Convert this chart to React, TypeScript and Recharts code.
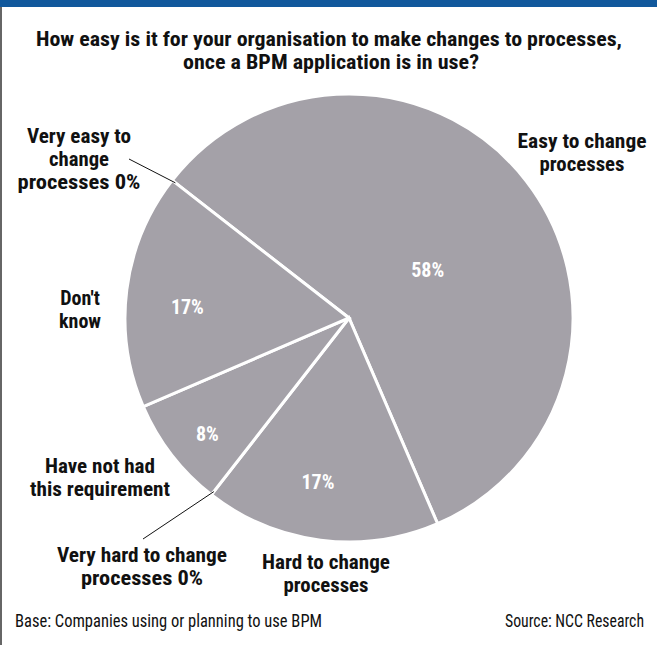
import { PieChart, Pie, Cell } from "recharts";

const categories = [
  "Very easy to change processes",
  "Easy to change processes",
  "Hard to change processes",
  "Very hard to change processes",
  "Have not had this requirement",
  "Don't know",
];
const shares = [0, 58, 17, 0, 8, 17];

const titleLines = [
  "How easy is it for your organisation to make changes to processes,",
  "once a BPM application is in use?",
];
const baseNote = "Base: Companies using or planning to use BPM";
const sourceNote = "Source: NCC Research";

const W = 657;
const H = 645;
const CX = 349;
const CY = 318;
const R = 224;
const FONT = "'Liberation Sans Narrow', 'Arial Narrow', 'Roboto Condensed', Arial, sans-serif";
const SLICE = "#a4a1a8";
const RAD = Math.PI / 180;

// where leader lines of the 0% slices end, and where the % labels sit inside
const leaderEnds: Record<number, [number, number]> = { 0: [129, 159], 3: [143, 539] };
const pctRadius = [0, 92, 167, 0, 183, 162];
const pctShift = [0, -6.5, -3.4, 0, 1.6, 3.3];

// category captions: lines, centre x, first baseline, widths
const captions = [
  { lines: ["Very easy to", "change", "processes  0%"], x: 79, y: 143, w: [104, 60, 123] },
  { lines: ["Easy to change", "processes"], x: 582, y: 148, w: [129, 85] },
  { lines: ["Don't", "know"], x: 80, y: 305, w: [0, 0] },
  { lines: ["Have not had", "this requirement"], x: 100, y: 473, w: [110, 140] },
  { lines: ["Very hard to change", "processes  0%"], x: 142, y: 562, w: [170, 122] },
  { lines: ["Hard to change", "processes"], x: 326, y: 569, w: [128, 85] },
];

const data = categories.map((name, i) => ({ name, value: shares[i] }));

function SliceLabel(props: any) {
  const { cx, cy, midAngle, outerRadius, index, value } = props;
  if (value === 0) {
    const end = leaderEnds[index];
    if (!end) return null;
    const r = outerRadius - 4;
    return (
      <line
        x1={cx + r * Math.cos(-midAngle * RAD)}
        y1={cy + r * Math.sin(-midAngle * RAD)}
        x2={end[0]}
        y2={end[1]}
        stroke="#111"
        strokeWidth={1}
      />
    );
  }
  const a = (midAngle + pctShift[index]) * RAD;
  const r = pctRadius[index];
  return (
    <text
      x={cx + r * Math.cos(-a)}
      y={cy + r * Math.sin(-a) + 7}
      textAnchor="middle"
      fill="#fff"
      fontFamily={FONT}
      fontWeight="bold"
      fontSize={20}
    >
      {value}%
    </text>
  );
}

export default function App() {
  return (
    <div style={{ position: "absolute", left: 0, top: 0, width: W, height: H, background: "#fff", overflow: "hidden" }}>
      <div style={{ position: "absolute", left: 0, top: 0, width: W, height: 7, background: "#11589c" }} />
      <div style={{ position: "absolute", left: 0, top: 7, width: 2, height: H - 7, background: "#666" }} />
      <PieChart
        width={W}
        height={H}
        margin={{ top: 0, right: 0, bottom: 0, left: 0 }}
        style={{ position: "absolute", left: 0, top: 0 }}
      >
        <Pie
          data={data}
          dataKey="value"
          nameKey="name"
          cx={CX}
          cy={CY}
          outerRadius={R}
          startAngle={142.1}
          endAngle={-217.9}
          stroke="#fff"
          strokeWidth={3}
          labelLine={false}
          label={SliceLabel}
          isAnimationActive={false}
        >
          {data.map((d) => (
            <Cell key={d.name} fill={SLICE} />
          ))}
        </Pie>
      </PieChart>
      <svg width={W} height={H} style={{ position: "absolute", left: 0, top: 0, pointerEvents: "none" }}>
        <g fontFamily={FONT} fontWeight="bold" fill="#111">
          <text x={329} y={46} fontSize={20} textAnchor="middle" textLength={586} lengthAdjust="spacingAndGlyphs">
            {titleLines[0]}
          </text>
          <text x={331} y={69} fontSize={20} textAnchor="middle" textLength={296} lengthAdjust="spacingAndGlyphs">
            {titleLines[1]}
          </text>
          {captions.map((c) =>
            c.lines.map((line, j) => (
              <text
                key={c.lines[0] + j}
                x={c.x}
                y={c.y + j * 23}
                fontSize={20}
                textAnchor="middle"
                {...(c.w[j] ? { textLength: c.w[j], lengthAdjust: "spacingAndGlyphs" } : {})}
              >
                {line}
              </text>
            ))
          )}
        </g>
        <g fontFamily={FONT} fill="#111" fontSize={18}>
          <text x={15} y={627} textLength={307} lengthAdjust="spacingAndGlyphs">
            {baseNote}
          </text>
          <text x={505} y={627} textLength={139} lengthAdjust="spacingAndGlyphs">
            {sourceNote}
          </text>
        </g>
      </svg>
    </div>
  );
}
